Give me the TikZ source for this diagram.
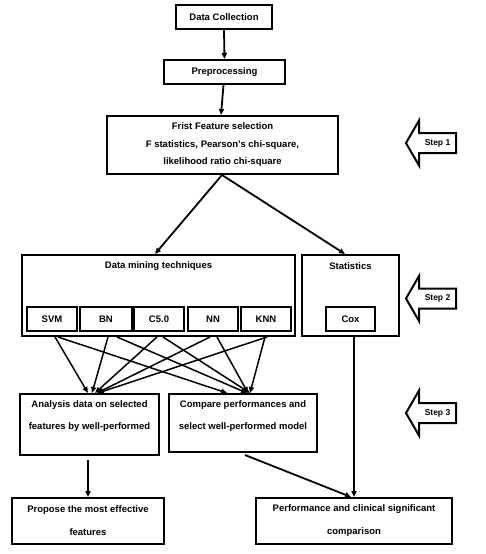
\documentclass[tikz,border=0pt]{standalone}
\usepackage{fontspec}
\setmainfont{Liberation Sans}
\usetikzlibrary{arrows.meta,calc}
\tikzset{
  box/.style={draw, line width=2pt, inner sep=0pt, font=\fontsize{9.5}{11}\selectfont\bfseries, align=center},
  lbl/.style={inner sep=0pt, font=\fontsize{9.5}{11}\selectfont\bfseries, align=center},
  arr/.style={line width=1.8pt, -{Triangle[length=6pt,width=5pt]}},
  thin/.style={line width=1.5pt, -{Triangle[length=6pt,width=5pt]}},
  stepshape/.style={line width=2pt, fill=white, line join=miter},
  steplbl/.style={inner sep=0pt, font=\fontsize{8.5}{10}\selectfont\bfseries}
}
\newcommand\stepArrow[3]{% name, y center, label
  \draw[stepshape] (406,#2) -- (419,#2-22.5) -- (419,#2-10) -- (456,#2-10) -- (456,#2+10) -- (419,#2+10) -- (419,#2+22.5) -- cycle;
  \node[steplbl] (#1) at (437.5,#2) {#3};
}
\begin{document}
\begin{tikzpicture}[x=1pt,y=-1pt]
\useasboundingbox (0,0) rectangle (485,554);
% top chain
\node[box, minimum width=96pt, minimum height=24pt] (dc) at (224,17) {Data Collection};
\node[box, minimum width=121pt, minimum height=24pt] (pp) at (224.5,72) {Preprocessing};
\node[box, minimum width=231pt, minimum height=58pt] (fs) at (222.5,145) {Frist Feature selection\\[7pt] F statistics, Pearson's chi-square,\\[6pt] likelihood ratio chi-square};
% data mining
\node[box, minimum width=273pt, minimum height=81pt] (dm) at (158.5,295.5) {};
\node[lbl] (dmt) at (158.5,266) {Data mining techniques};
\node[box, minimum width=50pt, minimum height=24pt] (svm) at (52,319) {SVM};
\node[box, minimum width=52pt, minimum height=24pt] (bn) at (106,319) {BN};
\node[box, minimum width=50pt, minimum height=24pt] (c50) at (159,319) {C5.0};
\node[box, minimum width=50pt, minimum height=24pt] (nn) at (213,319) {NN};
\node[box, minimum width=50pt, minimum height=24pt] (knn) at (266,319) {KNN};
% statistics
\node[box, minimum width=97pt, minimum height=81pt] (st) at (350.5,295.5) {};
\node[lbl] (stt) at (350.5,266) {Statistics};
\node[box, minimum width=49pt, minimum height=24pt] (cox) at (350.5,319) {Cox};
% step 3 level
\node[box, minimum width=139pt, minimum height=61pt] (an) at (89.5,424.5) {};
\node[lbl] (ant) at (89.5,416) {Analysis data on selected\\[11pt] features by well-performed};
\node[box, minimum width=148pt, minimum height=58pt] (cp) at (243,423) {};
\node[lbl] (cpt) at (243,416) {Compare performances and\\[11pt] select well-performed model};
% bottom
\node[box, minimum width=152pt, minimum height=46pt] (pr) at (88,521) {Propose the most effective\\[12pt] features};
\node[box, minimum width=196pt, minimum height=46pt] (pf) at (354,521) {Performance and clinical significant\\[12pt] comparison};
% step arrows
\stepArrow{s1}{143}{Step 1}
\stepArrow{s2}{298.5}{Step 2}
\stepArrow{s3}{413}{Step 3}
% connectors
\draw[arr] (dc.south) -- (pp.north);
\draw[arr] ([xshift=-1pt]pp.south) -- ([xshift=-1.5pt]fs.north);
\draw[arr] ([xshift=-0.5pt]fs.south) -- ([xshift=-3.5pt]dm.north);
\draw[arr] ([xshift=-0.5pt]fs.south) -- ([xshift=-5.5pt]st.north);
% model lines
\draw[thin] ([xshift=3pt]svm.south |- dm.south) -- ([xshift=-1.5pt]an.north);
\draw[thin] ([xshift=6pt]svm.south |- dm.south) -- ([xshift=-16pt]cp.north);
\draw[thin] ([xshift=2pt]bn.south |- dm.south) -- ([xshift=2.5pt]an.north);
\draw[thin] ([xshift=11pt]bn.south |- dm.south) -- ([xshift=4pt]cp.north);
\draw[thin] ([xshift=-2pt]c50.south |- dm.south) -- ([xshift=5.5pt]an.north);
\draw[thin] ([xshift=4pt]c50.south |- dm.south) -- ([xshift=7pt]cp.north);
\draw[thin] ([xshift=-3pt]nn.south |- dm.south) -- ([xshift=7.5pt]an.north);
\draw[thin] ([xshift=4pt]nn.south |- dm.south) -- ([xshift=5pt]cp.north);
\draw[thin] ([xshift=1pt]knn.south |- dm.south) -- ([xshift=8.5pt]an.north);
\draw[thin] ([xshift=-1pt]knn.south |- dm.south) -- ([xshift=7pt]cp.north);
% bottom connectors
\draw[arr] ([xshift=3.5pt]st.south) -- ([xshift=3.5pt]st.south |- pf.north);
\draw[arr] ([xshift=-1.5pt,yshift=-4pt]an.south) -- ([xshift=-1.5pt]an.south |- pr.north);
\draw[arr] ([xshift=2pt,yshift=-2pt]cp.south) -- ([xshift=-3pt]pf.north);
\end{tikzpicture}
\end{document}
